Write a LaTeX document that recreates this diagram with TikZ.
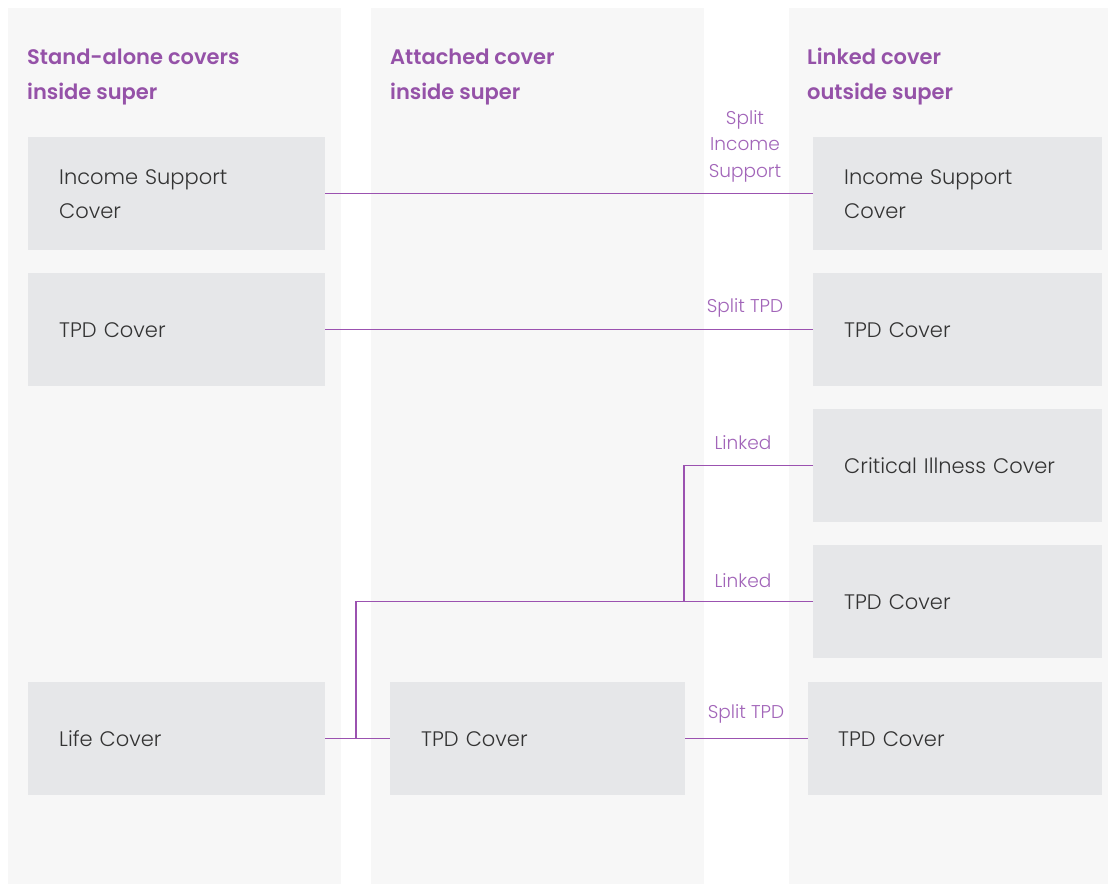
\documentclass[tikz,border=0pt]{standalone}
\usepackage{fontspec}
\setmainfont{Poppins}[UprightFont=* Light, BoldFont=* SemiBold]
\usepackage{xcolor}
\definecolor{colbg}{HTML}{F7F7F7}
\definecolor{boxgrey}{HTML}{E6E7E9}
\definecolor{headpurple}{HTML}{9552A8}
\definecolor{tagpurple}{HTML}{A265B9}
\definecolor{linkpurple}{HTML}{9B52B0}
\definecolor{textdark}{HTML}{333333}
\tikzset{
	cover/.style={fill=boxgrey, anchor=north west, minimum width=297pt, minimum height=113pt,
		text width=235pt, inner xsep=31pt, inner ysep=0pt, align=left, text=textdark,
		font=\fontsize{21}{34}\selectfont},
	head/.style={anchor=base west, inner sep=0pt, align=left, text=headpurple,
		font=\fontsize{21}{35}\selectfont\bfseries},
	tag/.style={inner sep=0pt, align=center, text=tagpurple, font=\fontsize{18.5}{26.5}\selectfont},
	link/.style={draw=linkpurple, line width=1.4pt}
}
\begin{document}
\begin{tikzpicture}[x=1pt, y=-1pt]
		\useasboundingbox (0,0) rectangle (1108,885);
		\fill[white] (0,0) rectangle (1108,885);
		%
		%Spalten
		\fill[colbg] (8,8) rectangle (341,884);
		\fill[colbg] (371,8) rectangle (704,884);
		\fill[colbg] (789,8) rectangle (1108,884);
		%
		%Ueberschriften
		\node[head] (headStand) at (27,100) {Stand-alone covers\\inside super};
		\node[head] (headAtt) at (390,100) {Attached cover\\inside super};
		\node[head] (headLink) at (807,100) {Linked cover\\outside super};
		%
		%Stand-alone
		\node[cover] (isL) at (28,137) {Income Support\\Cover};
		\node[cover] (tpdL) at (28,273) {TPD Cover};
		\node[cover] (life) at (28,682) {Life Cover};
		%
		%Attached
		\node[cover, minimum width=295pt, text width=233pt] (tpdAtt) at (390,682) {TPD Cover};
		%
		%Linked
		\node[cover, minimum width=289pt, text width=227pt, inner xsep=31pt] (isR) at (813,137) {Income Support\\Cover};
		\node[cover, minimum width=289pt, text width=227pt] (tpdR) at (813,273) {TPD Cover};
		\node[cover, minimum width=289pt, text width=227pt] (ci) at (813,409) {Critical Illness Cover};
		\node[cover, minimum width=289pt, text width=227pt] (tpdLink) at (813,545) {TPD Cover};
		\node[cover, minimum width=294pt, text width=234pt, inner xsep=30pt] (tpdSplit) at (808,682) {TPD Cover};
		%
		%Verbindungspunkte
		\coordinate (ciJoin) at (684,601.5);
		\coordinate (lifeJoin) at (356,738.5);
		%
		%Linien
		\draw[link] (isL.east) -- (isR.west);
		\draw[link] (tpdL.east) -- (tpdR.west);
		\draw[link] (ci.west) -| (ciJoin);
		\draw[link] (tpdLink.west) -| (lifeJoin);
		\draw[link] (life.east) -- (tpdAtt.west);
		\draw[link] (tpdAtt.east) -- (tpdSplit.west);
		%
		%Beschriftungen
		\node[tag] (tagIS) at (745,146) {Split\\Income\\Support};
		\node[tag] (tagTPD) at (745,308) {Split TPD};
		\node[tag] (tagCI) at (743,443) {Linked};
		\node[tag] (tagLink) at (743,581) {Linked};
		\node[tag] (tagSplit) at (746,714) {Split TPD};
	\end{tikzpicture}
\end{document}
